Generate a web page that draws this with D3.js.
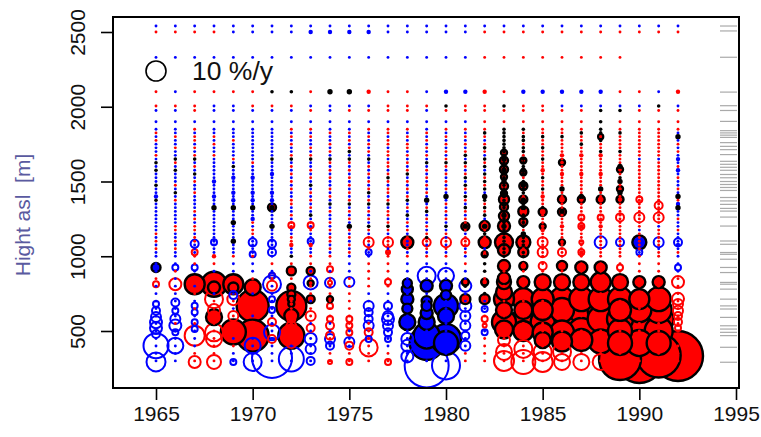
<!DOCTYPE html>
<html>
<head>
<meta charset="utf-8">
<script src="https://cdn.jsdelivr.net/npm/d3@7"></script>
<style>
  body { margin: 0; background: #ffffff; }
  svg { display: block; font-family: "Liberation Sans", Arial, Helvetica, sans-serif; }
</style>
</head>
<body>
<div id="chart"></div>
<script>
// elevation levels used by the small dots (m)
const levels = [2540, 2500, 2330, 2100, 2005, 1975, 1900,
  1850, 1825, 1800, 1775, 1750, 1725, 1700, 1675, 1650, 1625,
  1600, 1575, 1550, 1525, 1500, 1475, 1450, 1425, 1400, 1375,
  1350, 1325, 1300, 1275, 1250, 1225, 1200, 1175, 1150, 1125,
  1100, 1075, 1050, 1025, 1000,
  950, 900, 850, 800, 750, 700, 650, 600, 550, 500, 450, 400, 350, 300];

const years = [1965, 1966, 1967, 1968, 1969, 1970, 1971, 1972, 1973, 1974,
  1975, 1976, 1977, 1978, 1979, 1980, 1981, 1982, 1983, 1984,
  1985, 1986, 1987, 1988, 1989, 1990, 1991, 1992];

// one char per level: r/b = small red/blue, k = small black, upper case = a bit bigger, . = none
const dots = [
  "brbrrbb brbrb bbrbk bkbbb kbbBk bbbbb bbbrb rbrbb bbrbbbbbbbbbbb",
  "brbbrbb bbrbb rbbkr bkbbb rbkbr bbbbb brrbb rbrbb brbbbbbbrbbbbb",
  "brbrrrb rbrrb rbrkb rbkbr bbrbb bbrbr brrbr rbbbr rbrbrbrbrbbbrr",
  "brbrbbb bbrbr bbrbb bbbbB bbbBb bKbbb bbbbb bbbbR rbrrbrrrrrrrrr",
  "bbbrbbb bbbrb bbbrb kbbBb bbBbB bKbbb Kbbbb Kbbbr bbrrbrbrrrbrbb",
  "bbbrrbb bbbbb bbbbr bbbBb bbBbB bKbbB rbrrb bbbbr bbrrbrrbrrbbbb",
  "bbbkrbb bbbbb bbbkb bbBbb bbBbB bKbbb bKbbb bbbbb rbrbbbbbbbbbbb",
  "bbbkrbb rbrbr bbrkb rbrbr brbbr rbbrb rrbbr rRbbk rrrrrrrrrrrbbb",
  "bBbrbrb rbrbb rbrkb brbrb kbrbr brbkb rbrbb bRbbr rbrrrbrrbbbbbb",
  "bBbKbbb brbbr brbkr brbrb brbrb kbrbb rbrbr rbrbr rbrrrrrrbbrbrr",
  "bBbKbrb brbrb rkbkr brbrb rbrbr kbrbr bKrbr brbrb bbrrrrrrrbbbrr",
  "bBbRbrb rbrbr brbkb rbrbr brkbr kbrbr bkrbr rbrbb rrrrbbbbrrrrrr",
  "bbbrrrb rrbrr brrbr rbrkr brrbr kbrrb rkrbr rrbrr rrrrbbbbbbbbrr",
  "bbbrrrb rbrbr rbrbr brkbr brbrk brbkb rbrbr bbrbr bbbbbbbbbbbbbb",
  "bbbbrbb brbrb rbrbk brbrb rbrbK brkbr brbrk rbrbr bbbbbbbbbbbbbb",
  "bbbBkrb rbrbr brbrk rbrbr brbKb rbrbr bkbrb rbrbr bbbbbbbbbbbbbb",
  "bbbBrrb rbrbr brkbk rbrkb krbkr bkrbr rKrbr rrbrb rbbkbbbbbbbbrr",
  "brrRrrr rkrbr krbkr kbkrk rkbKk rkrkb rKrkr rrbrk kkrkkbbrrbrrrr",
  "brrrkrr kkkkk kkkKk kKkkK kkKkk KkkKk kKkkk kkkkk rrrrrrrrrrrrrr",
  "brrBrrr krkkr kkrkk kKkrk KkkrK kKrkk kkrKk kkrkk rrrrrrrrrrrrrr",
  "brrBrrr rrkrr krrkr rRrkr rkrRr rkRrr rrRrr rrrrr rrrrrrrrrrrrrr",
  "brrBbrr rrkrr rrRrr rrRrr rKrrR rrKrr rRrrr rrrrr rrrrrrrrrrrrrr",
  "brrBbrr rkrrk rrRrr rrRrr rrrKr rrrrr rRrrr rrrRr rrrrrrrrrrrrrr",
  "brrBbkk kkrkr rkRrr rrRrr rKrrr rrrrr rRrrr rrrrr rrrrrrrrrrrrrr",
  "brrrbkr rkrrr rkrrr KrrkK rrKrr rrrrr rrrrr rrrrr rrrrrrrrrrrrrr",
  "br.rbrr rrrrr rrrbr rrrrr rrrrr rrrrr rrbrr rrrbr rrrrrrrrrrrrrr",
  "br.bkrr rrrrr rrrbr rrrrr rrrrr rrrrr rbrrr rrbrr rrrrrrrrrrrrrr",
  "br.Rbrr rbKbr brbBb rBbrb brbKr BKbbr bbrbb bBbrb bbrrrrrrrrrrrr"
];

// open circles: [year, elevation m, rate %/y] (negative = blue)
const rings = [
  [1965, 813, 3], [1965, 680, -3], [1965, 636, -4], [1965, 593, -5], [1965, 558, -6], [1965, 520, -6],
  [1965, 480, -4], [1965, 402, -12.5], [1965, 293, -9.5],
  [1966, 925, -3], [1966, 813, 6], [1966, 691, -4], [1966, 636, -3], [1966, 580, -5], [1966, 536, -6],
  [1966, 491, -3], [1966, 402, -8],
  [1967, 1083, -4], [1967, 1027, 3], [1967, 925, -3], [1967, 669, -3], [1967, 625, -3], [1967, 558, -3],
  [1967, 513, -3], [1967, 469, 10], [1967, 293, 6],
  [1968, 1093, -3], [1968, 713, 9], [1968, 640, 6], [1968, 491, 9], [1968, 447, 8], [1968, 293, 7],
  [1969, 740, -4], [1969, 713, 6], [1969, 600, 5], [1969, 293, -3],
  [1970, 1093, -4], [1970, 1013, -3], [1970, 402, -8], [1970, 293, -9],
  [1971, 1083, -4], [1971, 1027, -4], [1971, 869, 3], [1971, 869, -3], [1971, 813, -9], [1971, 802, 5],
  [1971, 713, -3], [1971, 640, -3], [1971, 560, 4], [1971, 491, -8], [1971, 447, 4], [1971, 320, -20],
  [1972, 1207, 3], [1972, 580, 4], [1972, 530, 5], [1972, 420, 5], [1972, 313, -12.5],
  [1973, 1207, 3], [1973, 1100, -3], [1973, 825, -7], [1973, 600, 5], [1973, 520, 4], [1973, 447, -6],
  [1973, 380, -5], [1973, 300, -4],
  [1974, 913, 3], [1974, 823, -5], [1974, 823, 2], [1974, 668, 3], [1974, 580, 3], [1974, 536, 4],
  [1974, 469, 4], [1974, 447, -5], [1974, 402, -4], [1974, 293, 2],
  [1975, 827, -5], [1975, 580, 3], [1975, 536, 3], [1975, 490, 3], [1975, 427, -5], [1975, 402, 4], [1975, 293, 3],
  [1976, 1093, 5], [1976, 1027, -3], [1976, 668, -5], [1976, 625, -4], [1976, 580, -4], [1976, 536, -5],
  [1976, 491, 4], [1976, 447, -3], [1976, 390, 9],
  [1977, 1093, 5], [1977, 1027, 2], [1977, 827, 3], [1977, 668, -4], [1977, 600, -5], [1977, 580, -6],
  [1977, 536, -5], [1977, 491, -4], [1977, 447, -3], [1977, 293, 3],
  [1978, 447, -6], [1978, 402, -6], [1978, 330, -6],
  [1979, 1093, 4], [1979, 869, -9], [1979, 270, -22],
  [1980, 1093, 5], [1980, 869, -8], [1980, 270, -14],
  [1981, 1093, 4], [1981, 802, -6], [1981, 668, -6], [1981, 600, -5], [1981, 536, -5], [1981, 469, -4], [1981, 402, -5],
  [1982, 647, -3], [1982, 580, 3], [1982, 536, 2], [1982, 491, -3],
  [1983, 440, 6], [1983, 360, 8], [1983, 300, 10],
  [1984, 380, 9], [1984, 293, 12],
  [1985, 1093, 5], [1985, 1027, 5], [1985, 935, 4], [1985, 360, 9], [1985, 293, 10],
  [1986, 1027, 4], [1986, 360, 9], [1986, 293, 8],
  [1987, 1260, 3], [1987, 1200, 3], [1987, 1093, 2], [1987, 1027, 3], [1987, 293, 8],
  [1988, 1260, 3], [1988, 1093, -6], [1988, 293, 8],
  [1989, 1260, 4], [1989, 1093, -4], [1989, 925, 3],
  [1990, 1380, 3], [1990, 1260, 5], [1990, 1027, -3],
  [1991, 1340, 4], [1991, 1260, 5], [1991, 1093, -5],
  [1992, 1093, -4], [1992, 925, -3], [1992, 827, 6], [1992, 715, 6], [1992, 680, 5], [1992, 636, 5],
  [1992, 600, 4], [1992, 560, 4], [1992, 520, 3]
];

// filled circles with black border: [year, elevation m, rate %/y]
const discs = [
  [1965, 925, -4.5],
  [1967, 813, 10],
  [1968, 813, 12.5], [1968, 791, 6], [1968, 593, 8],
  [1969, 813, 10], [1969, 791, 5], [1969, 493, 12.5],
  [1970, 793, 8], [1970, 668, 16], [1970, 469, 16],
  [1971, 1327, 4],
  [1972, 902, 4.5], [1972, 790, 4], [1972, 745, 4], [1972, 713, 3.5], [1972, 680, 3], [1972, 668, 15],
  [1972, 602, 7], [1972, 469, 13],
  [1973, 902, 4], [1973, 820, 3], [1973, 713, 4],
  [1974, 713, 3],
  [1978, 1093, 6], [1978, 820, -4.5], [1978, 780, -5.5], [1978, 713, -6], [1978, 650, -5], [1978, 560, -8],
  [1979, 802, -6], [1979, 700, -5], [1979, 668, -5], [1979, 620, -6], [1979, 560, -8], [1979, 470, -13], [1979, 420, -17],
  [1980, 802, -6], [1980, 740, -5], [1980, 668, -12], [1980, 600, -8], [1980, 447, -15], [1980, 420, -12],
  [1981, 1200, 4], [1981, 827, 3.5], [1981, 713, 5],
  [1982, 1202, 5], [1982, 1093, 6], [1982, 1013, 3], [1982, 827, 3.5], [1982, 713, 5],
  [1983, 1693, 3], [1983, 1640, 4], [1983, 1580, 4], [1983, 1530, 3], [1983, 1469, 4], [1983, 1420, 3],
  [1983, 1380, 5], [1983, 1330, 4], [1983, 1269, 5], [1983, 1202, 6], [1983, 1093, 9], [1983, 1040, 6],
  [1983, 935, 6], [1983, 853, 6], [1983, 827, 7], [1983, 760, 8], [1983, 713, 10], [1983, 640, 8],
  [1983, 560, 12], [1983, 510, 9],
  [1984, 1640, 3], [1984, 1560, 3], [1984, 1470, 4], [1984, 1380, 4], [1984, 1300, 5], [1984, 1230, 4],
  [1984, 1093, 7], [1984, 1027, 5], [1984, 935, 4], [1984, 827, 6], [1984, 713, 11], [1984, 640, 9],
  [1984, 560, 13], [1984, 500, 10],
  [1985, 1297, 4], [1985, 1200, 3], [1985, 827, 8], [1985, 713, 11], [1985, 640, 10], [1985, 560, 12],
  [1985, 490, 10], [1985, 440, 8],
  [1986, 1627, 3], [1986, 1380, 4], [1986, 1297, 4], [1986, 1093, 3], [1986, 935, 5], [1986, 827, 8],
  [1986, 713, 12], [1986, 640, 12], [1986, 560, 13], [1986, 490, 12], [1986, 430, 10],
  [1987, 1380, 3.5], [1987, 925, 6], [1987, 827, 8], [1987, 713, 12], [1987, 640, 13], [1987, 580, 14],
  [1987, 500, 13], [1987, 440, 11],
  [1988, 1800, 2.5], [1988, 1380, 4], [1988, 925, 6], [1988, 827, 10], [1988, 713, 12], [1988, 640, 13],
  [1988, 580, 13], [1988, 500, 14], [1988, 430, 12],
  [1989, 1580, 3], [1989, 1450, 3], [1989, 1380, 3.5], [1989, 827, 8], [1989, 713, 12], [1989, 640, 11],
  [1989, 580, 13], [1989, 500, 12], [1989, 420, 12], [1989, 313, 21],
  [1990, 1093, -7], [1990, 827, 6], [1990, 713, 10], [1990, 640, 12], [1990, 580, 14], [1990, 500, 14],
  [1990, 420, 13], [1990, 313, 24],
  [1991, 827, 6], [1991, 713, 12], [1991, 640, 13], [1991, 580, 15], [1991, 500, 14], [1991, 420, 12],
  [1991, 336, 22],
  [1992, 333, 25]
];

// rug of elevations on the right side
const rugLevels = [2540, 2507, 2331, 2098, 2007, 1975, 1902, 1840, 1825, 1810, 1795, 1760, 1735, 1713,
  1680, 1635, 1615, 1595, 1575, 1547, 1525, 1500, 1480, 1460, 1440, 1393, 1370, 1347, 1320, 1302,
  1262, 1202, 1102, 1080, 1025, 1013, 980, 925, 891, 825, 813, 780, 713, 668, 647, 591, 535, 513,
  491, 469, 391, 291];

const xTicks = [1965, 1970, 1975, 1980, 1985, 1990, 1995];
const yTicks = [500, 1000, 1500, 2000, 2500];
const legendValue = 10;

const width = 761, height = 437;
const box = { left: 113, right: 739, top: 17, bottom: 388 };

const svg = d3.select("#chart").append("svg")
  .attr("width", width)
  .attr("height", height);

svg.append("rect").attr("width", width).attr("height", height).attr("fill", "#ffffff");

const x = d3.scaleLinear().domain([1965, 1995]).range([156, 736]);
const y = d3.scaleLinear().domain([500, 2500]).range([331, 32]);
const rScale = d3.scaleLinear().domain([0, 10]).range([0, 10]);

const red = "#ff0000", blue = "#0000ff";

// rug
svg.append("g").selectAll("line")
  .data(rugLevels)
  .enter().append("line")
  .attr("x1", 720).attr("x2", 737)
  .attr("y1", d => y(d)).attr("y2", d => y(d))
  .attr("stroke", "#8c8c8c")
  .attr("stroke-opacity", 0.75)
  .attr("stroke-width", 1.2);

// circles, biggest first so small ones stay on top
const circles = rings.map(d => ({ year: d[0], elev: d[1], v: d[2], filled: false }))
  .concat(discs.map(d => ({ year: d[0], elev: d[1], v: d[2], filled: true })));
circles.sort((a, b) => Math.abs(b.v) - Math.abs(a.v));

const plot = svg.append("g");

plot.selectAll(".c")
  .data(circles)
  .enter().append("circle")
  .attr("class", "c")
  .attr("cx", d => x(d.year))
  .attr("cy", d => y(d.elev))
  .attr("r", d => rScale(Math.abs(d.v)))
  .attr("fill", d => d.filled ? (d.v > 0 ? red : blue) : "none")
  .attr("stroke", d => d.filled ? "#000" : (d.v > 0 ? red : blue))
  .attr("stroke-width", d => d.filled ? 2.4 : 2);

// small dots
const dotStyle = {
  r: { fill: red, r: 1.45 }, R: { fill: red, r: 2.2 },
  b: { fill: blue, r: 1.45 }, B: { fill: blue, r: 2.2 },
  k: { fill: "#000", r: 1.8 }, K: { fill: "#000", r: 2.7 }
};
const dotData = [];
years.forEach((yr, i) => {
  const codes = dots[i].replace(/ /g, "").split("");
  codes.forEach((c, j) => {
    if (dotStyle[c] && j < levels.length) dotData.push({ year: yr, elev: levels[j], c: c });
  });
});

plot.selectAll(".d")
  .data(dotData)
  .enter().append("circle")
  .attr("class", "d")
  .attr("cx", d => x(d.year))
  .attr("cy", d => y(d.elev))
  .attr("r", d => dotStyle[d.c].r)
  .attr("fill", d => dotStyle[d.c].fill);

// legend
svg.append("circle")
  .attr("cx", 156).attr("cy", 71)
  .attr("r", rScale(legendValue))
  .attr("fill", "none").attr("stroke", "#000").attr("stroke-width", 1.6);
svg.append("text")
  .attr("x", 192).attr("y", 80)
  .attr("font-size", 26.5)
  .attr("fill", "#111")
  .text(legendValue + " %/y");

// axes
const xAxis = d3.axisBottom(x).tickValues(xTicks).tickFormat(d3.format("d")).tickSize(12).tickPadding(6);
const gx = svg.append("g").attr("transform", `translate(0,${box.bottom})`).call(xAxis);
gx.select(".domain").remove();
gx.selectAll("line").attr("stroke", "#000").attr("stroke-width", 1.6);
gx.selectAll("text").attr("font-size", 21).attr("fill", "#111")
  .attr("font-family", "Liberation Sans, Arial, sans-serif");

const yAxis = d3.axisLeft(y).tickValues(yTicks).tickFormat(d3.format("d")).tickSize(12).tickPadding(0);
const gy = svg.append("g").attr("transform", `translate(${box.left},0)`).call(yAxis);
gy.select(".domain").remove();
gy.selectAll("line").attr("stroke", "#000").attr("stroke-width", 1.6);
gy.selectAll("text")
  .attr("font-size", 21).attr("fill", "#111")
  .attr("font-family", "Liberation Sans, Arial, sans-serif")
  .attr("text-anchor", "middle")
  .attr("x", null).attr("dy", null)
  .attr("transform", "translate(-28,0) rotate(-90)");

// plot box
svg.append("rect")
  .attr("x", box.left).attr("y", box.top)
  .attr("width", box.right - box.left).attr("height", box.bottom - box.top)
  .attr("fill", "none").attr("stroke", "#000").attr("stroke-width", 2);

// y title
svg.append("text")
  .attr("transform", "translate(30,215) rotate(-90)")
  .attr("text-anchor", "middle")
  .attr("font-size", 21)
  .attr("fill", "#5a5aa0")
  .style("white-space", "pre")
  .text("Hight asl  [m]");
</script>
</body>
</html>
